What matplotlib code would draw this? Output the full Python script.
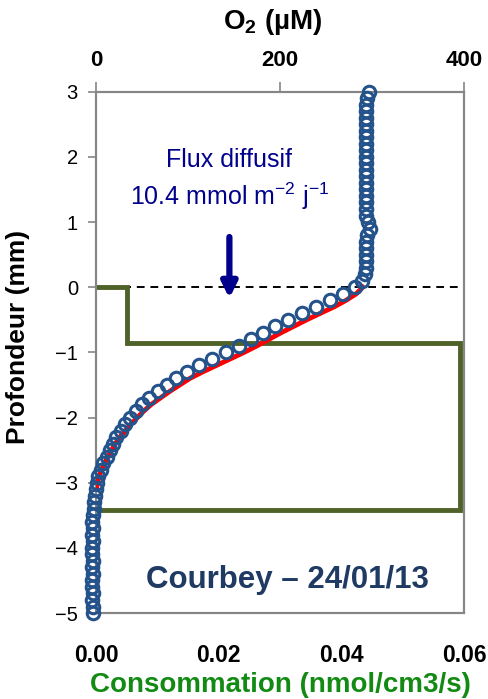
import numpy as np
import matplotlib.pyplot as plt

plt.rcParams['font.family'] = ['Liberation Sans', 'DejaVu Sans']
plt.rcParams['mathtext.fontset'] = 'custom'
plt.rcParams['mathtext.rm'] = 'Liberation Sans'
plt.rcParams['mathtext.bf'] = 'Liberation Sans:bold'

# profondeur (mm) et O2 mesure (uM)
depth = [3.0, 2.9, 2.8, 2.7, 2.6, 2.5, 2.4, 2.3, 2.2, 2.1, 2.0, 1.9, 1.8, 1.7, 1.6,
         1.5, 1.4, 1.3, 1.2, 1.1, 1.0, 0.9, 0.8, 0.7, 0.6, 0.5, 0.4, 0.3, 0.2, 0.1,
         0.0, -0.1, -0.2, -0.3, -0.4, -0.5, -0.6, -0.7, -0.8, -0.9, -1.0, -1.1, -1.2,
         -1.3, -1.4, -1.5, -1.6, -1.7, -1.8, -1.9, -2.0, -2.1, -2.2, -2.3, -2.4, -2.5,
         -2.6, -2.7, -2.8, -2.9, -3.0, -3.1, -3.2, -3.3, -3.4, -3.5, -3.6, -3.7, -3.8,
         -3.9, -4.0, -4.1, -4.2, -4.3, -4.4, -4.5, -4.6, -4.7, -4.8, -4.9, -5.0]
o2 = [297, 295, 294, 293.5, 293, 293, 293.5, 293, 293, 293.5, 293, 293, 293.5, 293, 293,
      293.5, 293, 293, 293.5, 294, 296, 298, 295, 293.5, 293, 293, 293, 293, 292, 289,
      282, 269, 254, 239, 224, 209, 195, 181, 168, 155, 141, 126, 112,
      99, 87, 77, 67, 58, 50, 43, 37, 32, 27, 22, 18, 15,
      11.5, 8, 5, 2.5, 1, 0, -1, -2, -2.5, -3.5, -4, -3.5, -4,
      -3.5, -4, -4, -3.5, -4, -3.5, -4, -4, -3.5, -4, -3.5, -3.5]

# profil ajuste (ligne rouge)
fit_depth = [0.0, -0.1, -0.2, -0.3, -0.4, -0.5, -0.6, -0.7, -0.8, -0.9, -1.0, -1.1,
             -1.2, -1.3, -1.4, -1.5, -1.6, -1.7, -1.8, -1.9, -2.0, -2.1, -2.2, -2.3,
             -2.4, -2.5, -2.6, -2.7, -2.8, -2.9, -3.0, -3.1]
fit_o2 = [290, 283, 272, 259, 244, 229, 215, 201, 188, 175, 161, 146,
          131, 116, 102, 91, 80, 70, 60, 52, 45, 38, 32, 26,
          21, 17, 13, 9.5, 6, 3.5, 1.5, 0.3]

# zones de consommation
zone_top = [0.0, -0.85]
zone_bot = [-0.85, -3.42]
conso = [0.005, 0.0593]

fig = plt.figure(figsize=(4.88, 6.99), dpi=100)
ax = fig.add_axes([0.1967, 0.1230, 0.7541, 0.7458])
ax2 = ax.twiny()

grey = '#868686'
for a in (ax, ax2):
    for s in a.spines.values():
        s.set_color(grey)
        s.set_linewidth(1.5)

# consommation (axe du bas)
xs, ys = [0.0], [zone_top[0]]
for t, b, c in zip(zone_top, zone_bot, conso):
    xs += [c, c]
    ys += [t, b]
xs.append(0.0)
ys.append(zone_bot[-1])
ax.plot(xs, ys, color='#4F6228', lw=3.5, zorder=3, solid_joinstyle='miter')
ax.axhline(0, color='black', lw=1.4, ls=(0, (4, 3)), zorder=1)
ax.set_xlim(0, 0.06)
ax.set_ylim(-5, 3)
ax.set_xticks([0, 0.02, 0.04, 0.06])
ax.set_xticklabels(['0.00', '0.02', '0.04', '0.06'], fontweight='bold', fontsize=16.5)
ax.set_yticks(range(-5, 4))
ax.tick_params(axis='x', length=0, pad=22)
ax.tick_params(axis='y', length=6, color=grey, width=1.2, labelsize=14.5, pad=7)
ax.set_xlabel('Consommation (nmol/cm3/s)', color='#138A13', fontweight='bold',
              fontsize=20, va='center')
ax.xaxis.set_label_coords(0.5, -0.138)
ax.set_ylabel('Profondeur (mm)', fontweight='bold', fontsize=19, va='center')
ax.yaxis.set_label_coords(-0.212, 0.53)

# O2 (axe du haut)
ax2.plot(fit_o2, fit_depth, color='#FF0000', lw=3.5, zorder=4)
ax2.plot(o2, depth, 'o', ms=9, mfc='none', mec='#24528A', mew=2.2, zorder=5,
         clip_on=False)
ax2.set_xlim(0, 400)
ax2.set_xticks([0, 200, 400])
ax2.set_xticklabels(['0', '200', '400'], fontweight='bold', fontsize=16)
ax2.tick_params(axis='x', length=7, color=grey, width=1.2, pad=8)
ax2.set_xlabel(r'O$_\mathbf{2}$ (µM)', fontweight='bold', fontsize=20, va='center')
ax2.xaxis.set_label_coords(0.48, 1.134)

ax2.text(145, 1.95, 'Flux diffusif', color='#00008B', fontsize=18,
         ha='center', va='center')
ax2.text(145, 1.4, r'10.4 mmol m$^{-2}$ j$^{-1}$', color='#00008B', fontsize=18,
         ha='center', va='center')
ax2.annotate('', xy=(145, -0.17), xytext=(145, 0.77),
             arrowprops=dict(arrowstyle='-|>,head_length=0.9,head_width=0.45',
                             color='#00008B', lw=4.5, shrinkA=0, shrinkB=0),
             zorder=6)
ax2.text(208, -4.49, 'Courbey – 24/01/13', color='#1F3A63', fontsize=22.5,
         fontweight='bold', ha='center', va='center')

fig.savefig('out.png', dpi=100)
